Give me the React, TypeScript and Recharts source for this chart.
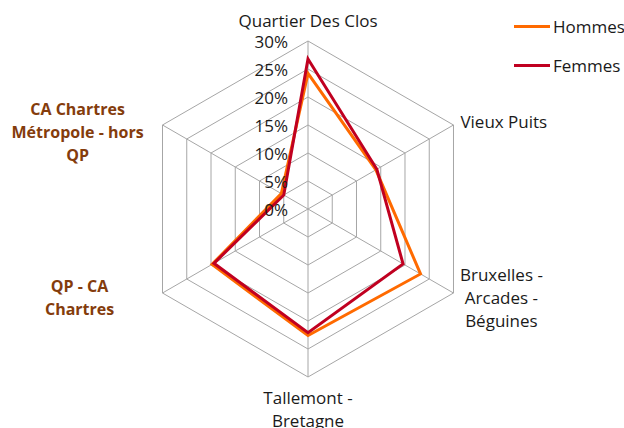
import React from "react";
import {
  RadarChart, Radar, PolarGrid, PolarAngleAxis, PolarRadiusAxis,
} from "recharts";

const categories = [
  "Quartier Des Clos",
  "Vieux Puits",
  "Bruxelles - Arcades - Béguines",
  "Tallemont - Bretagne",
  "QP - CA Chartres",
  "CA Chartres Métropole - hors QP",
];

// how each category label wraps in the picture
const categoryLines = [
  ["Quartier Des Clos"],
  ["Vieux Puits"],
  ["Bruxelles -", "Arcades -", "Béguines"],
  ["Tallemont -", "Bretagne"],
  ["QP - CA", "Chartres"],
  ["CA Chartres", "Métropole - hors", "QP"],
];

const hommes = [0.242, 0.140, 0.232, 0.226, 0.198, 0.055];
const femmes = [0.268, 0.142, 0.196, 0.221, 0.194, 0.050];

const radiusTicks = [0, 0.05, 0.1, 0.15, 0.2, 0.25, 0.3];

const series = [
  { key: "hommes", name: "Hommes", color: "#FF6A00" },
  { key: "femmes", name: "Femmes", color: "#C00020" },
];

const data = categories.map((c, i) => ({
  name: c,
  hommes: hommes[i],
  femmes: femmes[i],
}));

const FONT = "'Open Sans', sans-serif";
const FS = 17;
const TEXT = "#1a1a1a";
const BROWN = "#843C0C";
const LINE_H = 23;

// label placement relative to the tick point (style only)
const labelStyle = [
  { dx: 0, dy: -13, anchor: "middle", bold: false },
  { dx: 0, dy: 0, anchor: "start", bold: false },
  { dx: 41, dy: 0, anchor: "middle", bold: false },
  { dx: 0, dy: 24, anchor: "middle", bold: false },
  { dx: -76, dy: 0, anchor: "middle", bold: true },
  { dx: -78, dy: 11, anchor: "middle", bold: true },
];

function AngleTick({ x, y, index }: any) {
  const lines = categoryLines[index] ?? [];
  const s = labelStyle[index];
  const top = y + s.dy - ((lines.length - 1) * LINE_H) / 2;
  return (
    <text
      textAnchor={s.anchor}
      fontFamily={FONT}
      fontSize={s.bold ? 16 : FS}
      fontWeight={s.bold ? 700 : 400}
      fill={s.bold ? BROWN : TEXT}
    >
      {lines.map((l, i) => (
        <tspan key={i} x={x + s.dx} y={top + i * LINE_H} dominantBaseline="central">
          {l}
        </tspan>
      ))}
    </text>
  );
}

function RadiusTick({ x, y, payload }: any) {
  return (
    <text
      x={x - 20} y={y} textAnchor="end" dominantBaseline="central"
      fontFamily={FONT} fontSize={FS} fill={TEXT}
    >
      {`${Math.round(payload.value * 100)}%`}
    </text>
  );
}

export default function App() {
  return (
    <div style={{ position: "absolute", left: 0, top: 0, width: 624, height: 428, background: "#fff" }}>
      <RadarChart
        width={624} height={428} data={data}
        cx={308} cy={209} outerRadius={168}
        margin={{ top: 0, right: 0, bottom: 0, left: 0 }}
      >
        <PolarGrid gridType="polygon" stroke="#A6A6A6" strokeWidth={1} />
        <PolarAngleAxis
          dataKey="name" tick={<AngleTick />}
          axisLine={false} tickLine={false}
        />
        <PolarRadiusAxis
          type="number" angle={90} domain={[0, 0.3]} ticks={radiusTicks}
          tickCount={7} tick={<RadiusTick />} axisLine={false} tickLine={false}
        />
        {series.map((s) => (
          <Radar
            key={s.key} name={s.name} dataKey={s.key}
            stroke={s.color} strokeWidth={3} fill="none" fillOpacity={0}
            dot={false} isAnimationActive={false}
          />
        ))}
      </RadarChart>
      <div style={{ position: "absolute", left: 514, top: 14, fontFamily: FONT, fontSize: FS, color: TEXT }}>
        {series.map((s) => (
          <div key={s.key} style={{ display: "flex", alignItems: "center", height: 25, marginBottom: 14 }}>
            <span style={{ display: "inline-block", width: 36, height: 3, background: s.color, marginRight: 3 }} />
            <span>{s.name}</span>
          </div>
        ))}
      </div>
    </div>
  );
}
